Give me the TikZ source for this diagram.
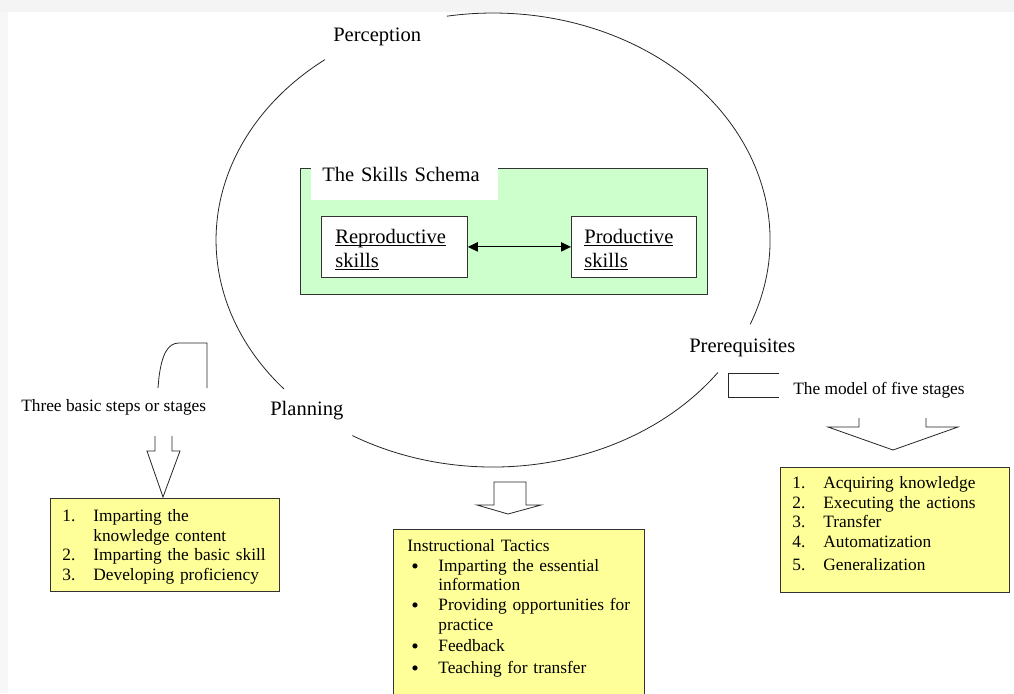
\documentclass[tikz,border=0pt]{standalone}
\usepackage{fontspec}
\setmainfont{Liberation Serif}
\usepackage{tikz}
\usetikzlibrary{arrows.meta}

\definecolor{schemagreen}{HTML}{CCFFCC}
\definecolor{listyellow}{HTML}{FFFF99}
\newcommand\skillname[1]{\underline{\smash{#1}}}
\newcommand\tacticdot{\raisebox{-1.6pt}{\fontsize{16}{15}\selectfont\textbullet}}

\begin{document}
\begin{tikzpicture}[x=0.75pt,y=-0.75pt,
        line/.style={line width=0.6pt,black!85},
        bigtext/.style={anchor=base west,inner sep=0pt,font=\fontsize{15.4}{18}\selectfont},
        smalltext/.style={anchor=base west,inner sep=0pt,font=\fontsize{13}{15}\selectfont},
        skillbox/.style={draw=black!80,line width=0.6pt,fill=white,anchor=north west,inner ysep=0pt,align=left,
            text height=20.25pt,text depth=25.5pt,font=\fontsize{15.4}{18}\selectfont},
        listbox/.style={draw=black!80,line width=0.6pt,fill=listyellow,anchor=north west,inner xsep=9pt,inner ysep=0pt,
            align=left,font=\fontsize{13}{14.8}\selectfont}]
        \useasboundingbox (0,0) rectangle (1014,693);
        \clip (0,0) rectangle (1014,693);
        \fill[white] (0,0) rectangle (1014,693);
        \fill[gray!9] (0,0) rectangle (1014,12);
        \fill[gray!6] (0,12) rectangle (8,693);

        \draw[line] (324.8,59.7) arc[start angle=-127.4,end angle=-221,x radius=277,y radius=227];
        \draw[line] (352.4,435.6) arc[start angle=-239.5,end angle=-324.3,x radius=277,y radius=227];
        \draw[line] (750.2,324.3) arc[start angle=-338.2,end angle=-459.6,x radius=277,y radius=227];

        \node[bigtext] (perception) at (333,41) {Perception};
        \node[bigtext] (planning) at (270,415) {Planning};
        \node[bigtext] (prereq) at (689,352) {Prerequisites};
        \node[smalltext] (steps) at (21,411) {Three basic steps or stages};
        \node[smalltext] (fivestages) at (793,394) {The model of five stages};

        \node[draw=black!80,line width=0.6pt,fill=schemagreen,anchor=north west,inner sep=0pt,
            minimum width=305.25pt,minimum height=94.5pt] (schema) at (300,168) {};
        \node[fill=white,anchor=north west,inner xsep=8.25pt,inner ysep=0pt,text width=123.75pt,align=left,
            text height=10.5pt,text depth=14.25pt,font=\fontsize{15.4}{18}\selectfont] (schematitle) at (311,167) {The Skills Schema};
        \node[skillbox,inner xsep=10.5pt,text width=88.5pt] (repro) at (321,216) {\skillname{Reproductive}\\\skillname{skills}};
        \node[skillbox,inner xsep=9.75pt,text width=74.25pt] (prod) at (571,216) {\skillname{Productive}\\\skillname{skills}};
        \draw[line,line width=0.8pt,black,{Triangle[length=7.5pt,width=7pt]}-{Triangle[length=7.5pt,width=7pt]}] (repro) -- (prod);

        \node[listbox,text width=153.75pt,text height=17.25pt,text depth=52.5pt] (stepsbox) at (50,498) {%
            \begin{tabular}[t]{@{}p{23.25pt}@{}l@{}}
                1. & Imparting the\\
                   & knowledge content\\
                2. & Imparting the basic skill\\
                3. & Developing proficiency
            \end{tabular}};
        \node[listbox,inner xsep=10.5pt,text width=167.25pt,text height=16.5pt,text depth=111.75pt] (tacticsbox) at (393,529) {%
            \begin{tabular}[t]{@{\hspace{3pt}}p{20.25pt}@{}l@{}}
                \multicolumn{2}{@{}l@{}}{Instructional Tactics}\\
                \tacticdot & Imparting the essential\\
                           & information\\
                \tacticdot & Providing opportunities for\\
                           & practice\\[1pt]
                \tacticdot & Feedback\\[2pt]
                \tacticdot & Teaching for transfer
            \end{tabular}};
        \node[listbox,text width=153.75pt,text height=15.75pt,text depth=78pt] (stagesbox) at (780,467) {%
            \begin{tabular}[t]{@{}p{23.25pt}@{}l@{}}
                1. & Acquiring knowledge\\
                2. & Executing the actions\\
                3. & Transfer\\
                4. & Automatization\\[2pt]
                5. & Generalization
            \end{tabular}};

        \draw[line] (158,388) -- (159,377) .. controls (162,354) and (168,343) .. (179,343) -- (207,343) -- (207,388);
        \draw[line] (779,373) -- (728,373) -- (728,397) -- (779,397);
        \draw[line] (155,436) -- (155,451) -- (147,451) -- (163,497) -- (180,451) -- (172,451) -- (172,436);
        \draw[line] (494,482) -- (494,505) -- (477,505) -- (508,514) -- (541,505) -- (526,505) -- (526,482) -- cycle;
        \draw[line] (859,418) -- (859,427) -- (828,427) -- (893,450) -- (958,427) -- (926,427) -- (926,418);
\end{tikzpicture}
\end{document}
